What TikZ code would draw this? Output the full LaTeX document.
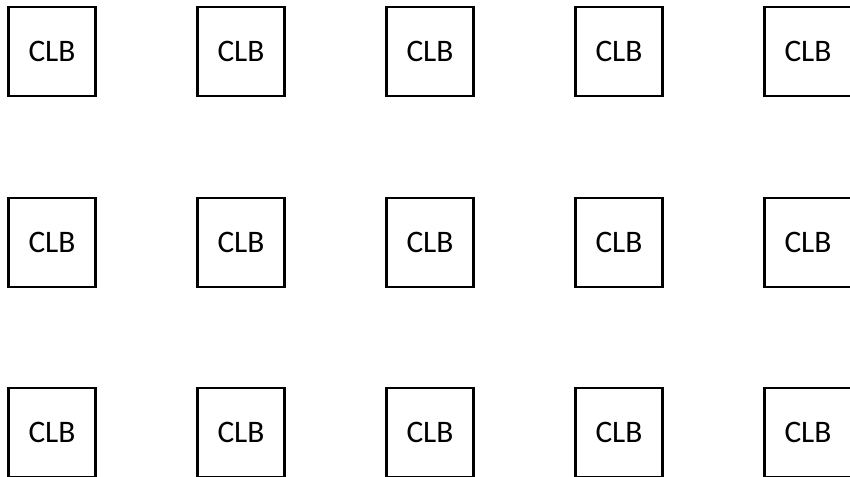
\documentclass[tikz,border=0pt]{standalone}
\usepackage{fontspec}
\setmainfont{Carlito}
\usepackage{tikz}
\usetikzlibrary{positioning}

\begin{document}
\begin{tikzpicture}[x=0.75pt, y=-0.75pt,
    clbbox/.style={draw=black, line width=1.6pt, minimum width=65.25pt, minimum height=66.5pt, inner sep=0pt, font=\fontsize{23.5}{27}\selectfont}]
  \useasboundingbox (0,0) rectangle (850,476);
  % 3 x 5 array of logic blocks
  \foreach \r/\y in {1/51.5, 2/242.5, 3/432.5} {
    \foreach \c/\x in {1/52, 2/241, 3/430, 4/619, 5/808} {
      \node[clbbox] (clb-\r-\c) at (\x,\y) {CLB};
    }
  }
\end{tikzpicture}
\end{document}
